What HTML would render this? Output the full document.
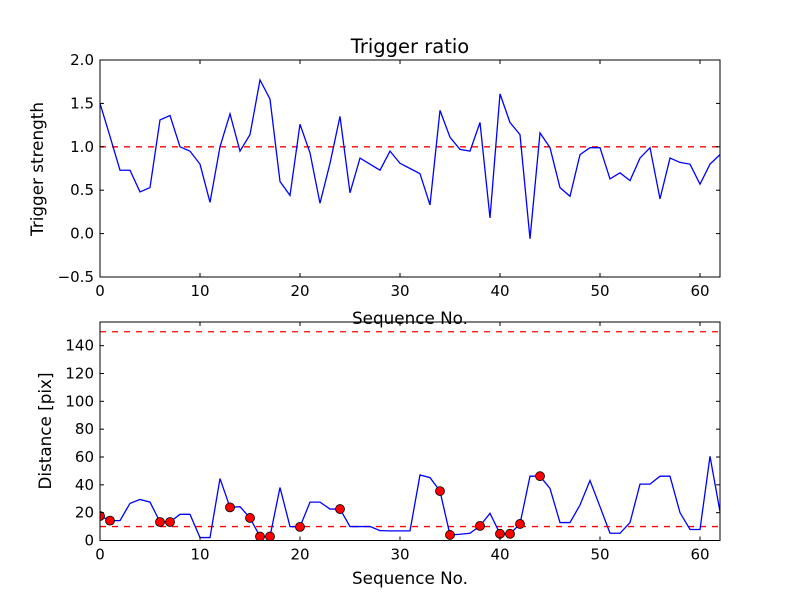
<!DOCTYPE html>
<html><head><meta charset="utf-8"><style>
body{margin:0;background:#fff}
svg{display:block;font-family:"DejaVu Sans","Liberation Sans",sans-serif}
</style></head><body>
<svg id="c" width="800" height="600"></svg>
<script>
const xs = Array.from({length:63},(_,i)=>i);
const ratio = [1.50,1.12,0.73,0.73,0.48,0.53,1.31,1.36,1.0,0.95,0.80,0.36,1.0,1.38,0.95,1.14,1.77,1.55,0.60,0.44,1.26,0.93,0.35,0.81,1.35,0.47,0.87,0.80,0.73,0.95,0.81,0.75,0.69,0.33,1.42,1.11,0.97,0.95,1.28,0.18,1.61,1.28,1.14,-0.06,1.16,0.99,0.53,0.43,0.91,0.99,0.99,0.63,0.70,0.61,0.87,0.99,0.40,0.87,0.82,0.80,0.57,0.80,0.91];
const dist = [17.6,14.3,14.3,26.7,29.5,27.6,13.3,13.3,18.8,18.8,2.1,2.1,44.5,23.8,24.3,16.2,2.9,2.9,38.1,10,9.8,27.6,27.6,22.6,22.6,10,10,10,7.1,6.9,6.9,6.9,47.1,45.2,35.5,4,4.5,5.2,10.5,19.5,4.8,4.8,11.9,46.2,46.2,37.4,12.9,12.9,25.5,43.1,24.3,5.2,5.2,12.9,40.5,40.5,46.2,46.2,20,7.9,7.9,60.5,20.7];
const markerIdx = [0,1,6,7,13,15,16,17,20,24,34,35,38,40,41,42,44];
const ratioThreshold = 1.0;
const distThresholds = [10,150];
const xTicks = [0,10,20,30,40,50,60];
const yTicksTop = [-0.5,0.0,0.5,1.0,1.5,2.0];
const yTicksBot = [0,20,40,60,80,100,120,140];

const svg=document.getElementById('c');
const NS='http://www.w3.org/2000/svg';
function mk(tag,attrs,parent,name){const e=document.createElementNS(NS,tag);for(const k in attrs)e.setAttribute(k,attrs[k]);


(parent||svg).appendChild(e);return e;}
function txt(s,x,y,anchor,size,name,rot){const t=mk('text',{x:x,y:y,'text-anchor':anchor,'font-size':size,fill:'#000'},svg,name);if(rot)t.setAttribute('transform',`rotate(-90 ${x} ${y})`);t.textContent=s;return t;}

function panel(top,bot,ymin,ymax,yTicks,fmt,key){
  const L=100,R=720;
  const X=v=>L+(v-0)/(62-0)*(R-L);
  const Y=v=>bot-(v-ymin)/(ymax-ymin)*(bot-top);
  return {L,R,top,bot,X,Y,
    frame(){
      mk('rect',{x:L,y:top,width:R-L,height:bot-top,fill:'none',stroke:'#000','stroke-width':1},svg,key+'-frame');
      xTicks.forEach(t=>{const x=X(t);
        mk('line',{x1:x,y1:bot,x2:x,y2:bot-4,stroke:'#000'},svg,key+'-x-tick');
        mk('line',{x1:x,y1:top,x2:x,y2:top+4,stroke:'#000'},svg,key+'-x-tick-top');
        txt(String(t),x,bot+19,'middle',15,key+'-x-tick-label');});
      yTicks.forEach(t=>{const y=Y(t);
        mk('line',{x1:L,y1:y,x2:L+4,y2:y,stroke:'#000'},svg,key+'-y-tick');
        mk('line',{x1:R,y1:y,x2:R-4,y2:y,stroke:'#000'},svg,key+'-y-tick-right');
        txt(fmt(t),L-6,y+5,'end',15,key+'-y-tick-label');});
    }};
}

// Top panel
const p1=panel(60,277,-0.5,2.0,yTicksTop,t=>t.toFixed(1).replace('-','\u2212'),'top');
mk('line',{x1:p1.L,y1:p1.Y(ratioThreshold),x2:p1.R,y2:p1.Y(ratioThreshold),stroke:'#f00','stroke-width':1.3,'stroke-dasharray':'6,6'},svg,'ratio-threshold-line');
mk('polyline',{points:xs.map((x,i)=>p1.X(x)+','+p1.Y(ratio[i])).join(' '),fill:'none',stroke:'#00f','stroke-width':1.3},svg,'trigger-ratio-line');
p1.frame();
txt('Trigger ratio',410,53,'middle',19.5,'top-title');
txt('Trigger strength',43,169,'middle',16.8,'top-y-axis-title',true);
txt('Sequence No.',410,324,'middle',16.8,'top-x-axis-title');

// Bottom panel
const p2=panel(322,540.5,0,157,yTicksBot,t=>String(t),'bottom');
const clip=mk('clipPath',{id:'cp'},svg,'bottom-clip');
mk('rect',{x:100,y:322,width:620,height:218.5},clip,'bottom-clip-rect');
distThresholds.forEach(v=>mk('line',{x1:p2.L,y1:p2.Y(v),x2:p2.R,y2:p2.Y(v),stroke:'#f00','stroke-width':1.3,'stroke-dasharray':'6,6'},svg,'distance-threshold-line'));
mk('polyline',{points:xs.map((x,i)=>p2.X(x)+','+p2.Y(dist[i])).join(' '),fill:'none',stroke:'#00f','stroke-width':1.3,'clip-path':'url(#cp)'},svg,'distance-line');
const g=mk('g',{'clip-path':'url(#cp)'},svg,'distance-markers');
markerIdx.forEach(i=>mk('circle',{cx:p2.X(xs[i]),cy:p2.Y(dist[i]),r:4.5,fill:'#f00',stroke:'#000','stroke-width':0.8},g,'distance-marker'));
p2.frame();
txt('Distance [pix]',51,431,'middle',16.8,'bottom-y-axis-title',true);
txt('Sequence No.',410,584,'middle',16.8,'bottom-x-axis-title');
</script>
</body></html>
